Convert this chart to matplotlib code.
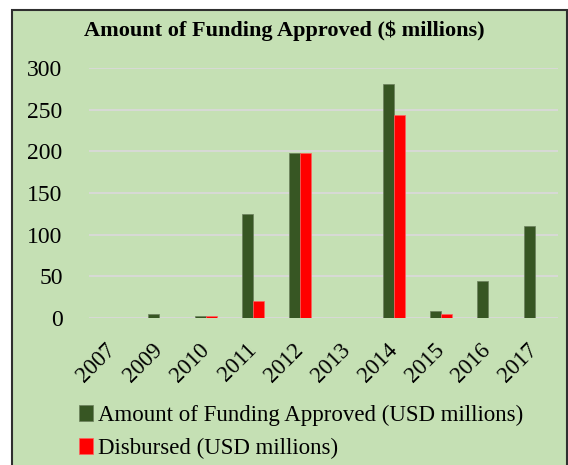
import numpy as np
import matplotlib.pyplot as plt
from matplotlib.patches import Rectangle

# Дані
years = ['2007', '2009', '2010', '2011', '2012', '2013', '2014', '2015', '2016', '2017']
approved = [0, 5, 3, 125, 198, 0, 281, 8, 44, 111]
disbursed = [0, 0, 3, 20, 198, 0, 243, 5, 0, 0]

plt.rcParams['font.family'] = ['Liberation Serif', 'DejaVu Serif']

fig = plt.figure(figsize=(5.68, 4.65), dpi=100)
fig.patch.set_facecolor('white')
# зелена рамка-фон
bg = Rectangle((12 / 568, -0.01), 555 / 568, 455 / 465 + 0.01, transform=fig.transFigure,
               facecolor='#C5E0B4', edgecolor='#2F2F2F', linewidth=1.5, zorder=-10)
fig.add_artist(bg)

ax = fig.add_axes([89 / 568, 1 - 318 / 465, 469 / 568, 250 / 465])
ax.set_zorder(1)
ax.set_facecolor('none')

x = np.arange(len(years))
w = 0.235
ax.bar(x - w / 2, approved, w, color='#375623', edgecolor='#6b7f5c', linewidth=0.5,
       label='Amount of Funding Approved (USD millions)', zorder=3)
ax.bar(x + w / 2, disbursed, w, color='#FF0000', edgecolor='#ff6060', linewidth=0.5,
       label='Disbursed (USD millions)', zorder=3)

ax.set_xlim(-0.5, len(years) - 0.5)
ax.set_ylim(0, 300)
ax.set_yticks(range(0, 301, 50))
ax.yaxis.grid(True, color='#D9D9D9', linewidth=1.3, zorder=0)
ax.set_axisbelow(True)
for s in ax.spines.values():
    s.set_visible(False)
ax.tick_params(axis='both', length=0)
ax.tick_params(axis='y', pad=19, labelsize=17)
ax.set_xticks(x)
ax.set_xticklabels(years, rotation=45, ha='right', va='center', rotation_mode='anchor', fontsize=16.5)
ax.tick_params(axis='x', pad=21)

fig.text(284 / 568, 1 - 31 / 465, 'Amount of Funding Approved ($ millions)',
         ha='center', va='center', fontsize=16, fontweight='bold')

ax.legend(loc='upper left', bbox_to_anchor=(79 / 568, 1 - 405 / 465), bbox_transform=fig.transFigure,
          frameon=False, fontsize=16.5, handlelength=0.6, handleheight=0.7, handletextpad=0.25,
          labelspacing=0.5, borderaxespad=0, borderpad=0)

fig.savefig('out.png', dpi=100)
